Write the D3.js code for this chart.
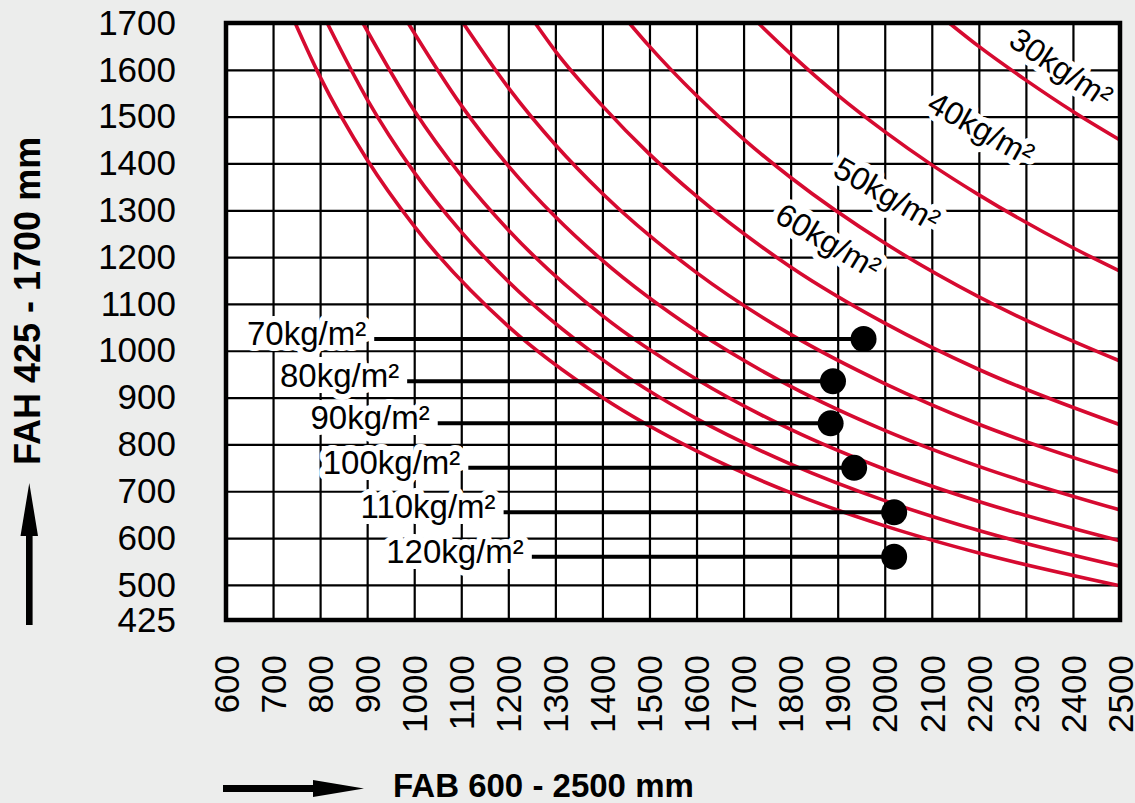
<!DOCTYPE html>
<html>
<head>
<meta charset="utf-8">
<script src="https://cdn.jsdelivr.net/npm/d3@7"></script>
<style>
  body { margin: 0; background: #ecedec; }
  svg { display: block; }
  text { font-family: "Liberation Sans", Arial, sans-serif; fill: #000; }
  .tick text { font-size: 35px; }
  .axis-title { font-weight: bold; }
  .load-label { font-size: 33px; paint-order: stroke; stroke: #fff; stroke-width: 12px; stroke-linejoin: round; }
</style>
</head>
<body>
<svg width="1135" height="803"></svg>
<script>
const xTicks = [600, 700, 800, 900, 1000, 1100, 1200, 1300, 1400, 1500, 1600, 1700, 1800, 1900, 2000, 2100, 2200, 2300, 2400, 2500];
const yTicks = [425, 500, 600, 700, 800, 900, 1000, 1100, 1200, 1300, 1400, 1500, 1600, 1700];

// red load curves, [FAB, FAH]
const curve30 = [[2137, 1700], [2200, 1650], [2300, 1578], [2400, 1511], [2500, 1450]];
const curve40 = [[1731, 1700], [1800, 1634], [1900, 1546], [2000, 1468], [2100, 1397], [2200, 1333], [2400, 1220], [2500, 1170]];
const curve50 = [[1457, 1700], [1500, 1650], [1600, 1545], [1700, 1452], [1800, 1370], [2000, 1230], [2200, 1115], [2500, 978]];
const curve60 = [[1257, 1700], [1300, 1640], [1400, 1523], [1500, 1420], [1600, 1330], [1800, 1179], [2000, 1059], [2200, 960], [2500, 842]];
const curve70 = [[1104, 1700], [1200, 1562], [1300, 1440], [1400, 1336], [1600, 1167], [1800, 1035], [2000, 930], [2200, 843], [2500, 740]];
const curve80 = [[987, 1700], [1100, 1524], [1200, 1395], [1300, 1286], [1400, 1193], [1600, 1042], [1800, 924], [2000, 830], [2200, 753], [2500, 660]];
const curve90 = [[891, 1700], [1000, 1513], [1100, 1374], [1200, 1258], [1400, 1075], [1600, 939], [1800, 832], [2000, 747], [2200, 678], [2500, 594]];
const curve100 = [[815, 1700], [900, 1537], [1000, 1381], [1100, 1254], [1200, 1148], [1400, 981], [1600, 855], [1800, 758], [2000, 680], [2200, 616], [2500, 540]];
const curve110 = [[747, 1700], [800, 1585], [900, 1408], [1000, 1266], [1200, 1052], [1400, 900], [1600, 786], [1800, 697], [2000, 626], [2200, 568], [2500, 498]];

// labels sitting on the upper curves
const curveLabels = [30, 40, 50, 60];
const curveLabelX = [2375, 2205, 2005, 1880];
const curveLabelY = [1605, 1475, 1335, 1235];

// labels with leader lines and dots
const dotLabels = [70, 80, 90, 100, 110, 120];
const leaderStartX = [915, 985, 1050, 1115, 1190, 1250];
const dotX = [1955, 1890, 1885, 1935, 2020, 2020];
const dotY = [1025, 935, 845, 750, 655, 560];

const svg = d3.select('svg');
const width = +svg.attr('width');
const height = +svg.attr('height');
const margin = { top: 23, right: 15, bottom: 183, left: 226 };
const innerWidth = width - margin.left - margin.right;
const innerHeight = height - margin.top - margin.bottom;
const red = '#d60a30';

const curves = [
  { load: 30, points: curve30 },
  { load: 40, points: curve40 },
  { load: 50, points: curve50 },
  { load: 60, points: curve60 },
  { load: 70, points: curve70 },
  { load: 80, points: curve80 },
  { load: 90, points: curve90 },
  { load: 100, points: curve100 },
  { load: 110, points: curve110 },
];

const xScale = d3.scaleLinear().domain([600, 2500]).range([0, innerWidth]);
const yScale = d3.scaleLinear().domain([425, 1700]).range([innerHeight, 0]);

const g = svg.append('g')
  .attr('transform', `translate(${margin.left}, ${margin.top})`);

g.append('rect')
  .attr('width', innerWidth)
  .attr('height', innerHeight)
  .attr('fill', '#fff');

g.append('clipPath').attr('id', 'clip')
  .append('rect')
  .attr('width', innerWidth)
  .attr('height', innerHeight);

// y axis + horizontal grid
const yAxisGroup = g.append('g')
  .call(d3.axisLeft(yScale).tickValues(yTicks).tickFormat(d3.format('d'))
    .tickSize(-innerWidth).tickPadding(50));
yAxisGroup.select('.domain').remove();
yAxisGroup.selectAll('line').attr('stroke', '#000').attr('stroke-width', 2.2);

// x axis + vertical grid, labels turned upright
const xAxisGroup = g.append('g')
  .attr('transform', `translate(0, ${innerHeight})`)
  .call(d3.axisBottom(xScale).tickValues(xTicks).tickFormat(d3.format('d'))
    .tickSize(-innerHeight));
xAxisGroup.select('.domain').remove();
xAxisGroup.selectAll('line').attr('stroke', '#000').attr('stroke-width', 2.2);
xAxisGroup.selectAll('text')
  .attr('transform', 'rotate(-90)')
  .attr('x', -35)
  .attr('y', 0)
  .attr('dy', '0.35em')
  .attr('text-anchor', 'end');

const lineGenerator = d3.line()
  .x(d => xScale(d[0]))
  .y(d => yScale(d[1]))
  .curve(d3.curveMonotoneX);

// angle of a curve (in screen space) around a given FAB
const curveAngle = (points, xv) => {
  let i = points.findIndex(p => p[0] >= xv);
  if (i < 1) i = 1;
  const a = points[i - 1], b = points[i];
  const dx = xScale(b[0]) - xScale(a[0]);
  const dy = yScale(b[1]) - yScale(a[1]);
  return Math.atan2(dy, dx) * 180 / Math.PI;
};

// rotated labels (white halo cuts the grid)
curveLabels.forEach((load, i) => {
  const c = curves.find(d => d.load === load);
  const px = xScale(curveLabelX[i]);
  const py = yScale(curveLabelY[i]);
  g.append('text')
    .attr('class', 'load-label')
    .attr('transform', `translate(${px}, ${py}) rotate(${curveAngle(c.points, curveLabelX[i])})`)
    .attr('text-anchor', 'middle')
    .attr('dy', '0.35em')
    .style('font-size', '32px')
    .text(`${load}kg/m²`);
});

// labels for the dots
g.selectAll('.dot-label').data(dotLabels).enter().append('text')
  .attr('class', 'load-label dot-label')
  .attr('x', (d, i) => xScale(leaderStartX[i]) - 8)
  .attr('y', (d, i) => yScale(dotY[i]) + 6)
  .attr('text-anchor', 'end')
  .text(d => `${d}kg/m²`);

// red curves
g.append('g')
  .attr('clip-path', 'url(#clip)')
  .selectAll('path').data(curves).enter().append('path')
  .attr('d', d => lineGenerator(d.points))
  .attr('fill', 'none')
  .attr('stroke', red)
  .attr('stroke-width', 3.6);

// leader lines + dots
g.selectAll('.leader').data(dotLabels).enter().append('line')
  .attr('class', 'leader')
  .attr('x1', (d, i) => xScale(leaderStartX[i]))
  .attr('x2', (d, i) => xScale(dotX[i]))
  .attr('y1', (d, i) => yScale(dotY[i]))
  .attr('y2', (d, i) => yScale(dotY[i]))
  .attr('stroke', '#000')
  .attr('stroke-width', 4);

g.selectAll('.dot').data(dotLabels).enter().append('circle')
  .attr('class', 'dot')
  .attr('cx', (d, i) => xScale(dotX[i]))
  .attr('cy', (d, i) => yScale(dotY[i]))
  .attr('r', 13)
  .attr('fill', '#000');

// frame
g.append('rect')
  .attr('width', innerWidth)
  .attr('height', innerHeight)
  .attr('fill', 'none')
  .attr('stroke', '#000')
  .attr('stroke-width', 4.5);

// axis titles with arrows
svg.append('text')
  .attr('class', 'axis-title')
  .attr('transform', 'translate(40, 465) rotate(-90)')
  .style('font-size', '36px')
  .text('FAH 425 - 1700 mm');

svg.append('text')
  .attr('class', 'axis-title')
  .attr('x', 393)
  .attr('y', 797)
  .style('font-size', '33px')
  .text('FAB 600 - 2500 mm');

// up arrow
svg.append('path')
  .attr('d', 'M26,625 V536 H20.5 L29.3,483 L38,536 H32.6 V625 Z')
  .attr('fill', '#000');

// right arrow
svg.append('path')
  .attr('d', 'M223,785 H313 V780 L364,788.5 L313,797 V792 H223 Z')
  .attr('fill', '#000');
</script>
</body>
</html>
